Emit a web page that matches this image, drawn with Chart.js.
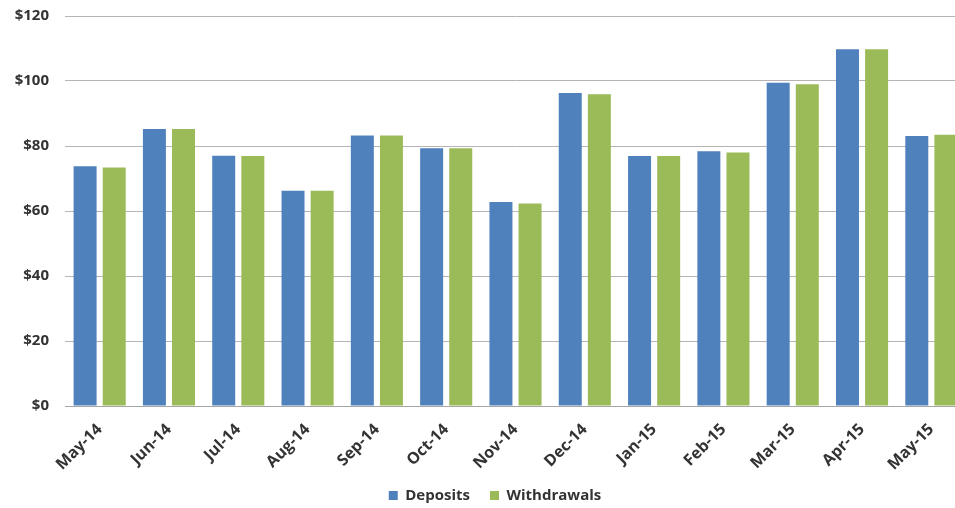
<!DOCTYPE html>
<html>
<head>
<meta charset="utf-8">
<script src="https://cdn.jsdelivr.net/npm/chart.js@4/dist/chart.umd.min.js"></script>
<style>
  html, body { margin: 0; padding: 0; background: #ffffff; overflow: hidden; }
  #wrap { width: 990px; height: 508px; position: relative; }
</style>
</head>
<body>
<div id="wrap"><canvas id="c"></canvas></div>
<script>
// Monthly account activity
const months = ['May-14','Jun-14','Jul-14','Aug-14','Sep-14','Oct-14','Nov-14',
                'Dec-14','Jan-15','Feb-15','Mar-15','Apr-15','May-15'];
const deposits    = [73.8, 85.2, 77.0, 66.2, 83.2, 79.3, 62.8, 96.3, 76.9, 78.4, 99.5, 109.8, 83.1];
const withdrawals = [73.4, 85.2, 76.9, 66.2, 83.2, 79.3, 62.3, 95.9, 76.9, 78.0, 99.0, 109.8, 83.5];
const yTicks = [0, 20, 40, 60, 80, 100, 120];

const textColor = '#333333';
const fontFamily = '"Open Sans", "Liberation Sans", sans-serif';

// Centre the legend under the whole plot, lower it a little, and let the
// slanted month labels use the space down to the legend row.
const layoutTweaks = {
  id: 'layoutTweaks',
  afterLayout(chart, args, opts) {
    const lg = chart.legend;
    if (lg) {
      lg.left += opts.dx; lg.right += opts.dx;
      lg.top += opts.dy; lg.bottom += opts.dy;
    }
    const x = chart.scales.x;
    if (x) x.bottom = chart.height;
  }
};

new Chart(document.getElementById('c'), {
  type: 'bar',
  data: {
    labels: months,
    datasets: [
      { label: 'Deposits', data: deposits, backgroundColor: '#4f81bd', borderWidth: 0 },
      { label: 'Withdrawals', data: withdrawals, backgroundColor: '#9bbb59', borderWidth: 0 }
    ]
  },
  plugins: [layoutTweaks],
  options: {
    responsive: true,
    maintainAspectRatio: false,
    animation: false,
    layout: { padding: { left: 0, right: 24, top: 16, bottom: 0 } },
    datasets: {
      bar: { categoryPercentage: 0.84, barPercentage: 0.79 }
    },
    plugins: {
      layoutTweaks: { dx: 12, dy: 5 },
      legend: {
        position: 'bottom',
        labels: {
          color: textColor,
          font: { family: fontFamily, size: 15, weight: 'bold' },
          boxWidth: 9, boxHeight: 9, padding: 20
        }
      },
      tooltip: { enabled: false }
    },
    scales: {
      x: {
        grid: { display: false, drawTicks: false },
        border: { display: true, color: '#a6a6a6', width: 1 },
        ticks: {
          color: textColor,
          font: { family: fontFamily, size: 16, weight: 'bold' },
          minRotation: 45, maxRotation: 45, padding: 14
        },
        afterFit: (axis) => {
          axis.height = 57;
          axis.paddingLeft = 0; axis.paddingRight = 0;
        }
      },
      y: {
        min: 0, max: 120,
        afterBuildTicks: (axis) => { axis.ticks = yTicks.map(v => ({ value: v })); },
        grid: { color: '#b4b4b4', lineWidth: 1, drawTicks: false },
        border: { display: false },
        ticks: {
          color: textColor,
          font: { family: fontFamily, size: 15, weight: 'bold' },
          padding: 16,
          callback: (v) => '$' + v
        },
        afterFit: (axis) => {
          axis.width = 65;
          axis.paddingTop = 0; axis.paddingBottom = 0;
        }
      }
    }
  }
});
</script>
</body>
</html>
